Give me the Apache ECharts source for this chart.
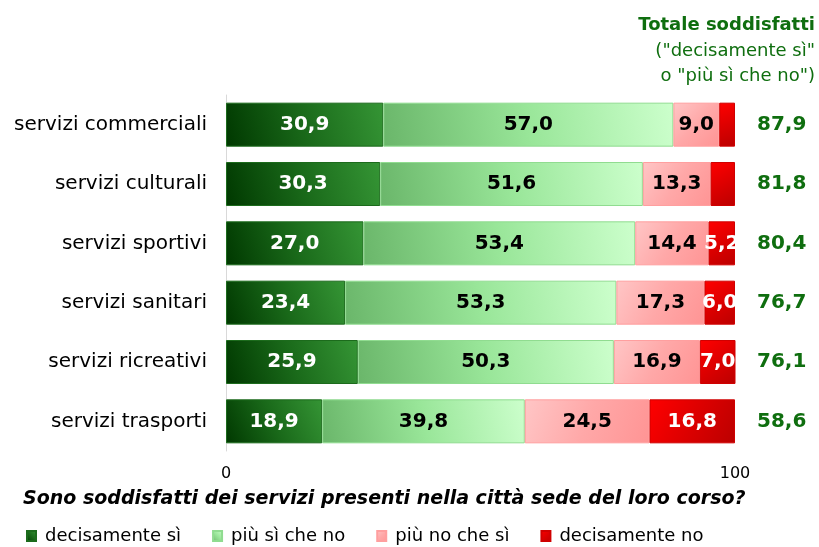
<!DOCTYPE html>
<html>
<head>
<meta charset="utf-8">
<script src="https://cdn.jsdelivr.net/npm/echarts@6/dist/echarts.min.js"></script>
<style>html,body{margin:0;padding:0;background:#fff}#c{width:819px;height:547px}</style>
</head>
<body>
<div id="c"></div>
<script>
const categories = ["servizi commerciali","servizi culturali","servizi sportivi","servizi sanitari","servizi ricreativi","servizi trasporti"];
const decisamenteSi = [30.9,30.3,27.0,23.4,25.9,18.9];
const piuSiCheNo = [57.0,51.6,53.4,53.3,50.3,39.8];
const piuNoCheSi = [9.0,13.3,14.4,17.3,16.9,24.5];
const decisamenteNo = [3.1,4.8,5.2,6.0,7.0,16.8];
const totali = [87.9,81.8,80.4,76.7,76.1,58.6];
const seriesNames = ["decisamente sì","più sì che no","più no che sì","decisamente no"];
const xTicks = [0,100];

const FONT = "DejaVu Sans";
const GREEN = '#0f6e0f';
const fmt = v => v.toFixed(1).replace('.', ',');
function grad(stops){ return new echarts.graphic.LinearGradient(0,1,1,0,stops.map((c,i)=>({offset:i/(stops.length-1),color:c}))); }
function gradR(stops){ return new echarts.graphic.LinearGradient(0,0,1,1,stops.map((c,i)=>({offset:i/(stops.length-1),color:c}))); }
const colors = [
  grad(['#003800','#1a6a1a','#359535']),
  grad(['#6ab66a','#99e699','#ccffcc']),
  gradR(['#ffc6c6','#ffa8a8','#ff9494']),
  gradR(['#ff0000','#dd0000','#bb0000'])
];
const borders = ['#1c6b1c','#90dc90','#ff9f9f','#d00000'];
const labelColors = ['#fff','#000','#000','#fff'];
const datasets = [decisamenteSi, piuSiCheNo, piuNoCheSi, decisamenteNo];

const chart = echarts.init(document.getElementById('c'));
chart.setOption({
  animation:false,
  textStyle:{fontFamily:FONT},
  grid:{left:226,right:84,top:95,height:356,containLabel:false},
  title:[
    {text:'Sono soddisfatti dei servizi presenti nella città sede del loro corso?',left:18,top:485,textStyle:{fontFamily:FONT,fontSize:19,fontWeight:'bold',fontStyle:'italic',color:'#000'}}
  ],
  graphic:[
    {type:'text',right:4,top:16,style:{text:'Totale soddisfatti',font:'bold 18px "DejaVu Sans"',fill:GREEN,textAlign:'right'}},
    {type:'text',right:4,top:42,style:{text:'("decisamente sì"',font:'18px "DejaVu Sans"',fill:GREEN,textAlign:'right'}},
    {type:'text',right:4,top:67,style:{text:'o "più sì che no")',font:'18px "DejaVu Sans"',fill:GREEN,textAlign:'right'}}
  ],
  legend:{
    data:seriesNames,left:21,top:522,itemWidth:9,itemHeight:10,itemGap:31,icon:'rect',
    textStyle:{fontFamily:FONT,fontSize:18,color:'#000',padding:[0,0,0,4]}
  },
  xAxis:{type:'value',min:xTicks[0],max:xTicks[xTicks.length-1],interval:100,
    axisLine:{show:false},axisTick:{show:false},splitLine:{show:false},
    axisLabel:{fontSize:16,color:'#000',margin:15}},
  yAxis:[
    {type:'category',data:categories,inverse:true,
      axisLine:{show:true,lineStyle:{color:'#d9d9d9',width:1}},axisTick:{show:false},
      axisLabel:{fontSize:20,color:'#000',margin:19}},
    {type:'category',data:totali.map(fmt),inverse:true,position:'right',
      axisLine:{show:false},axisTick:{show:false},
      axisLabel:{fontSize:20,fontWeight:'bold',color:GREEN,margin:22,align:'left'}}
  ],
  series: datasets.map((d,i)=>({
    name:seriesNames[i],type:'bar',stack:'t',barWidth:44,data:d,
    itemStyle:{color:colors[i],borderColor:borders[i],borderWidth:1},
    label:{show:true,position:'inside',fontSize:20,fontWeight:'bold',color:labelColors[i],
      formatter:p=>p.value>=5?fmt(p.value):''}
  }))
});
</script>
</body>
</html>
